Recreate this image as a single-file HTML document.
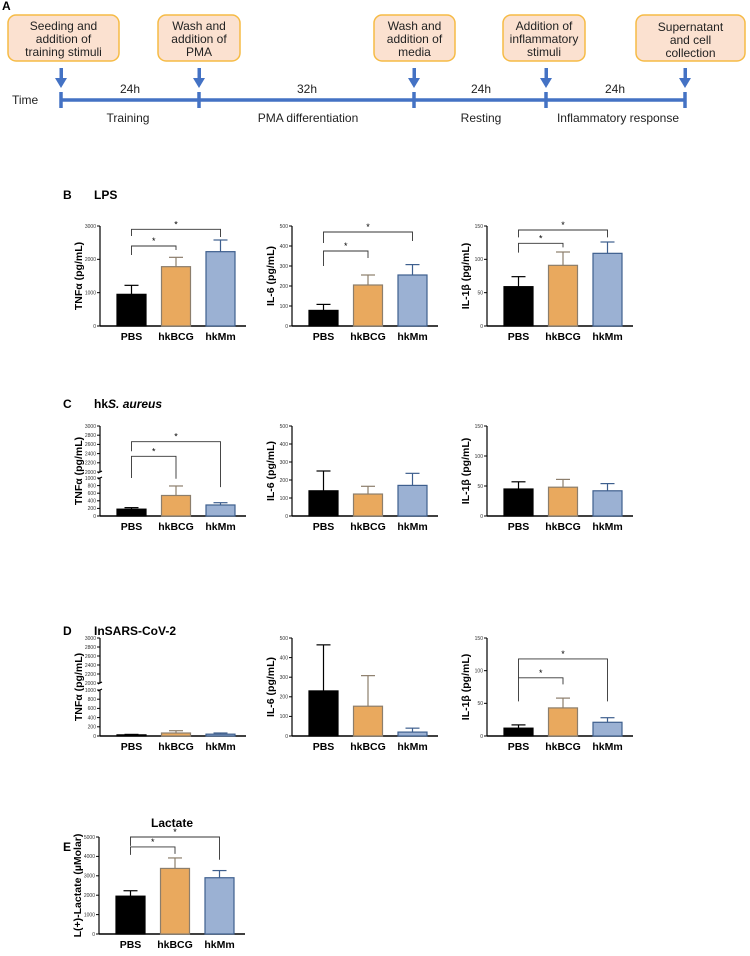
<!DOCTYPE html>
<html><head><meta charset="utf-8"><style>
body{margin:0;background:#fff;}
svg{display:block;font-family:"Liberation Sans",Arial,sans-serif;}
.bx{fill:#fbe1d0;stroke:#f6bb45;stroke-width:1.5;}
.bt{font-size:12px;fill:#222;text-anchor:middle;}
.tt{font-size:12px;fill:#222;}
.tick{font-size:5px;fill:#333;text-anchor:end;}
.xl{font-size:10.5px;font-weight:bold;text-anchor:middle;}
.yl{font-size:10.5px;font-weight:bold;text-anchor:middle;}
.sec{font-size:12px;font-weight:bold;}
</style></head><body>
<svg id="fig" width="750" height="956" viewBox="0 0 750 956" xmlns="http://www.w3.org/2000/svg">
<g id="panelA">
<text x="2" y="10" class="sec">A</text>
<g><rect x="8" y="15" width="111" height="46" rx="8" class="bx"/><text class="bt" x="63.5" y="30">Seeding and</text><text class="bt" x="63.5" y="43">addition of</text><text class="bt" x="63.5" y="56">training stimuli</text></g>
<g><rect x="158" y="15" width="82" height="46" rx="8" class="bx"/><text class="bt" x="199" y="30">Wash and</text><text class="bt" x="199" y="43">addition of</text><text class="bt" x="199" y="56">PMA</text></g>
<g><rect x="374" y="15" width="81" height="46" rx="8" class="bx"/><text class="bt" x="414.5" y="30">Wash and</text><text class="bt" x="414.5" y="43">addition of</text><text class="bt" x="414.5" y="56">media</text></g>
<g><rect x="503" y="15" width="82" height="46" rx="8" class="bx"/><text class="bt" x="544" y="30">Addition of</text><text class="bt" x="544" y="43">inflammatory</text><text class="bt" x="544" y="56">stimuli</text></g>
<g><rect x="636" y="15" width="109" height="46" rx="8" class="bx"/><text class="bt" x="690.5" y="31">Supernatant</text><text class="bt" x="690.5" y="44">and cell</text><text class="bt" x="690.5" y="57">collection</text></g>
<text x="12" y="104" class="tt">Time</text>
<g stroke="#4472c4" stroke-width="3.5" fill="none">
<line x1="61" y1="100" x2="685" y2="100"/>
<line x1="61" y1="92" x2="61" y2="108"/><line x1="199" y1="92" x2="199" y2="108"/><line x1="414" y1="92" x2="414" y2="108"/><line x1="546" y1="92" x2="546" y2="108"/><line x1="685" y1="92" x2="685" y2="108"/>
</g>
<g fill="#4472c4">
<rect x="59.5" y="68" width="3.5" height="12"/><polygon points="55,78 67,78 61,88"/>
<rect x="197.5" y="68" width="3.5" height="12"/><polygon points="193,78 205,78 199,88"/>
<rect x="412.5" y="68" width="3.5" height="12"/><polygon points="408,78 420,78 414,88"/>
<rect x="544.5" y="68" width="3.5" height="12"/><polygon points="540,78 552,78 546,88"/>
<rect x="683.5" y="68" width="3.5" height="12"/><polygon points="679,78 691,78 685,88"/>
</g>
<g class="tt" text-anchor="middle">
<text x="130" y="93">24h</text><text x="307" y="93">32h</text><text x="481" y="93">24h</text><text x="615" y="93">24h</text>
</g>
<g class="tt" text-anchor="middle">
<text x="128" y="122">Training</text><text x="308" y="122">PMA differentiation</text><text x="481" y="122">Resting</text><text x="618" y="122">Inflammatory response</text>
</g>
</g>
<text x="63" y="199" class="sec">B</text>
<text x="94" y="199" class="sec">LPS</text>
<text x="63" y="408" class="sec">C</text>
<text x="94" y="408" class="sec">hk<tspan font-style="italic">S. aureus</tspan></text>
<text x="63" y="635" class="sec">D</text>
<text x="94" y="635" class="sec">InSARS-CoV-2</text>
<text x="63" y="851" class="sec">E</text>
<text x="172" y="827" class="sec" font-size="10" text-anchor="middle">Lactate</text>
<g id="charts"></g>
</svg>
<script>
// ---- data ----
const categories = ["PBS","hkBCG","hkMm"];
const bLpsTnf = [950,1780,2230];   const bLpsTnfErr = [1220,2060,2580];
const bLpsIl6 = [78,205,255];      const bLpsIl6Err = [108,255,307];
const bLpsIl1b = [59,91,109];      const bLpsIl1bErr = [74,111,126];
const cSaTnf = [180,540,290];      const cSaTnfErr = [220,790,350];
const cSaIl6 = [140,122,170];      const cSaIl6Err = [250,165,237];
const cSaIl1b = [45,48,42];        const cSaIl1bErr = [57,61,54];
const dCovTnf = [25,65,40];        const dCovTnfErr = [35,115,65];
const dCovIl6 = [230,152,20];      const dCovIl6Err = [465,308,40];
const dCovIl1b = [12,43,21];       const dCovIl1bErr = [17,58,28];
const eLactate = [1950,3380,2900]; const eLactateErr = [2230,3920,3270];
const tnfTicks = [0,1000,2000,3000];
const tnfBrokenLowTicks = [0,200,400,600,800,1000];
const tnfBrokenHighTicks = [2000,2200,2400,2600,2800,3000];
const il6Ticks = [0,100,200,300,400,500];
const il1bTicks = [0,50,100,150];
const lactateTicks = [0,1000,2000,3000,4000,5000];
// brackets: [from, to, bracketValue, leftLegEnd, rightLegEnd]
const bTnfBrackets = [[0,1,2400,2130,2280],[0,2,2900,2700,2670]];
const bIl6Brackets = [[0,1,375,300,340],[0,2,470,415,425]];
const bIl1bBrackets = [[0,1,124,110,118],[0,2,144,133,133]];
const cTnfBrackets = [[0,1,2340,1000,980],[0,2,2660,2450,760]];
const dIl1bBrackets = [[0,1,89,53,79],[0,2,118,89,53]];
const eBrackets = [[0,1,4490,4080,4130],[0,2,5000,4540,3830]];

const NS="http://www.w3.org/2000/svg";
const root=document.getElementById('charts');
function mk(tag,attrs,parent){const e=document.createElementNS(NS,tag);for(const k in attrs)e.setAttribute(k,attrs[k]);parent.appendChild(e);return e;}
const fills=["#000000","#e9a95e","#9bb1d3"];
const strokes=["#000000","#8c7e6c","#3e5f8e"];

function chart(o){
  const g=mk('g',{},root);
  
  
  let Y;
  if(o.broken){
    const b=o.broken;
    Y=v=> v<=1000 ? b.bot-(v/1000)*(b.bot-b.lowTop) : b.highBot-((v-2000)/1000)*(b.highBot-b.top);
  } else {
    Y=v=> o.bot-(v/o.max)*(o.bot-o.top);
  }
  const x0=o.x0, bot=o.broken?o.broken.bot:o.bot, top=o.broken?o.broken.top:o.top;
  const cx=i=>x0+31.5+i*44.5;
  const ax=mk('g',{stroke:'#000','stroke-width':1.2,fill:'none'},g);
  
  
  if(o.broken){
    mk('line',{x1:x0,y1:bot,x2:x0,y2:o.broken.lowTop},ax);
    mk('line',{x1:x0,y1:o.broken.highBot,x2:x0,y2:top},ax);
    mk('line',{x1:x0-2,y1:o.broken.lowTop+1,x2:x0+2,y2:o.broken.lowTop-1},ax);
    mk('line',{x1:x0-2,y1:o.broken.highBot+1,x2:x0+2,y2:o.broken.highBot-1},ax);
  } else mk('line',{x1:x0,y1:bot,x2:x0,y2:top},ax);
  const xa=mk('line',{x1:x0,y1:bot,x2:x0+146,y2:bot,stroke:'#000','stroke-width':1.4},g);
  
  
  o.ticks.forEach(t=>{
    const y=Y(t);
    mk('line',{x1:x0-3,y1:y,x2:x0,y2:y,stroke:'#000','stroke-width':1},g);
    const tx=mk('text',{x:x0-4,y:y+1.8,class:'tick'},g);tx.textContent=t;
    
    
  });
  const my=(top+bot)/2;
  const yl=mk('text',{x:x0-22,y:my,class:'yl',transform:`rotate(-90 ${x0-22} ${my})`,dy:'4'},g);
  yl.textContent=o.ylabel;
  
  
  o.vals.forEach((v,i)=>{
    const c=cx(i), e=o.errs[i];
    const eb=mk('line',{x1:c,y1:Y(v),x2:c,y2:Y(e),stroke:strokes[i],'stroke-width':1.2},g);
    
    
    const cap=mk('line',{x1:c-7,y1:Y(e),x2:c+7,y2:Y(e),stroke:strokes[i],'stroke-width':1.2},g);
    
    
    const r=mk('rect',{x:c-14.5,y:Y(v),width:29,height:Math.max(0,bot-Y(v)),fill:fills[i],stroke:strokes[i],'stroke-width':1.2},g);
    
    
    const t=mk('text',{x:c,y:bot+14,class:'xl'},g);t.textContent=categories[i];
    
    
  });
  (o.brackets||[]).forEach(b=>{
    const xa1=cx(b[0]), xb=cx(b[1]), y=Y(b[2]);
    const p=mk('path',{d:`M${xa1},${Y(b[3])}V${y}H${xb}V${Y(b[4])}`,fill:'none',stroke:'#333','stroke-width':0.9},g);
    
    
    const s=mk('text',{x:(xa1+xb)/2,y:y-2,'font-size':'9','text-anchor':'middle'},g);s.textContent='*';
    
    
  });
}
// row B
chart({name:'lps-tnf-chart',x0:100,bot:326,top:226,max:3000,ticks:tnfTicks,vals:bLpsTnf,errs:bLpsTnfErr,ylabel:'TNFα (pg/mL)',brackets:bTnfBrackets});
chart({name:'lps-il6-chart',x0:292,bot:326,top:226,max:500,ticks:il6Ticks,vals:bLpsIl6,errs:bLpsIl6Err,ylabel:'IL-6 (pg/mL)',brackets:bIl6Brackets});
chart({name:'lps-il1b-chart',x0:487,bot:326,top:226,max:150,ticks:il1bTicks,vals:bLpsIl1b,errs:bLpsIl1bErr,ylabel:'IL-1β (pg/mL)',brackets:bIl1bBrackets});
// row C
chart({name:'saureus-tnf-chart',x0:100,broken:{bot:516,lowTop:478,highBot:472,top:426},ticks:tnfBrokenLowTicks.concat(tnfBrokenHighTicks),vals:cSaTnf,errs:cSaTnfErr,ylabel:'TNFα (pg/mL)',brackets:cTnfBrackets});
chart({name:'saureus-il6-chart',x0:292,bot:516,top:426,max:500,ticks:il6Ticks,vals:cSaIl6,errs:cSaIl6Err,ylabel:'IL-6 (pg/mL)'});
chart({name:'saureus-il1b-chart',x0:487,bot:516,top:426,max:150,ticks:il1bTicks,vals:cSaIl1b,errs:cSaIl1bErr,ylabel:'IL-1β (pg/mL)'});
// row D
chart({name:'sarscov2-tnf-chart',x0:100,broken:{bot:736,lowTop:690,highBot:683,top:638},ticks:tnfBrokenLowTicks.concat(tnfBrokenHighTicks),vals:dCovTnf,errs:dCovTnfErr,ylabel:'TNFα (pg/mL)'});
chart({name:'sarscov2-il6-chart',x0:292,bot:736,top:638,max:500,ticks:il6Ticks,vals:dCovIl6,errs:dCovIl6Err,ylabel:'IL-6 (pg/mL)'});
chart({name:'sarscov2-il1b-chart',x0:487,bot:736,top:638,max:150,ticks:il1bTicks,vals:dCovIl1b,errs:dCovIl1bErr,ylabel:'IL-1β (pg/mL)',brackets:dIl1bBrackets});
// row E
chart({name:'lactate-chart',x0:99,bot:934,top:837,max:5000,ticks:lactateTicks,vals:eLactate,errs:eLactateErr,ylabel:'L(+)-Lactate (µMolar)',brackets:eBrackets});
</script>
</body></html>
